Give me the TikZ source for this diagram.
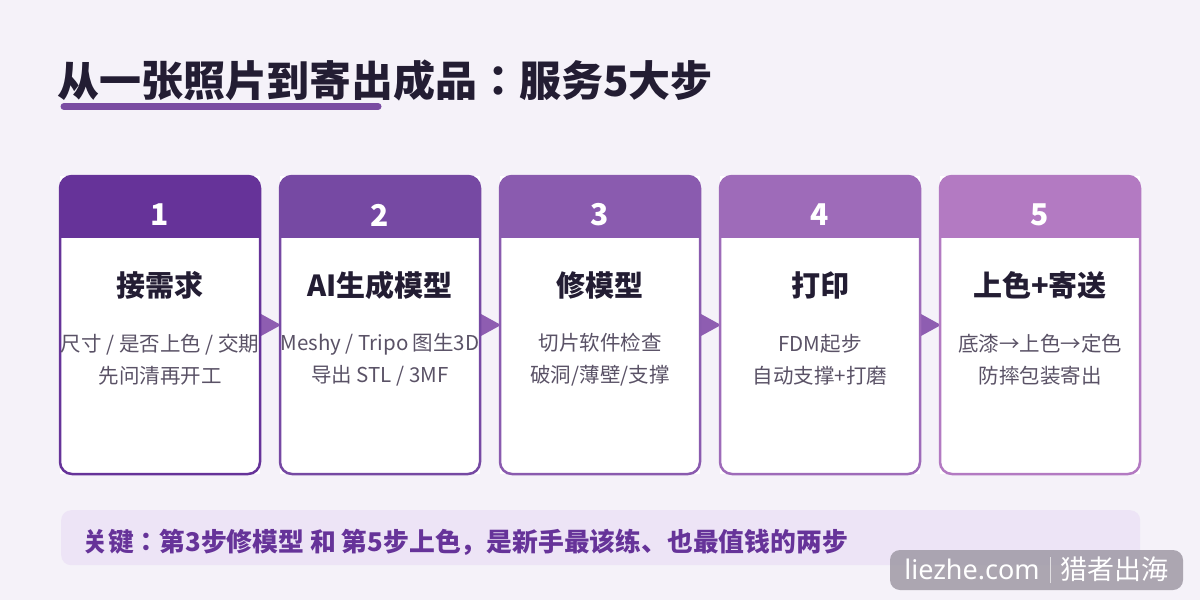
\documentclass[tikz,border=0pt]{standalone}
\usepackage{fontspec}
\setmainfont{Noto Sans CJK JP}
\newfontfamily\latinfont{Noto Sans}
\usetikzlibrary{calc}
\definecolor{bgc}{HTML}{F5F2F9}
\definecolor{hA}{HTML}{663399}
\definecolor{hB}{HTML}{7649A3}
\definecolor{hC}{HTML}{8A5BAF}
\definecolor{hD}{HTML}{9E6BB9}
\definecolor{hE}{HTML}{B37AC2}
\definecolor{ulc}{HTML}{7A4CA2}
\definecolor{arrc}{HTML}{8E5DB1}
\definecolor{darktxt}{HTML}{231D33}
\definecolor{desctxt}{HTML}{5A5266}
\definecolor{bannerc}{HTML}{EDE4F6}
\definecolor{wmc}{HTML}{9A94A0}
\pgfdeclarelayer{bg}
\pgfsetlayers{bg,main}
\tikzset{
  card/.style={fill=white, minimum width=200pt, minimum height=298pt, inner sep=0pt, outer sep=0pt},
  numtxt/.style={text=white, font=\fontsize{30}{36}\selectfont\bfseries, inner sep=0pt},
  ttltxt/.style={text=darktxt, font=\fontsize{29}{34}\selectfont\bfseries, inner sep=0pt},
  dsctxt/.style={text=desctxt, font=\fontsize{20.5}{32}\selectfont, align=center, inner sep=0pt},
  tri/.style={fill=arrc},
}
\begin{document}
\begin{tikzpicture}[x=1pt,y=-1pt]
\useasboundingbox (0,0) rectangle (1200,600);
\begin{pgfonlayer}{bg}
\fill[bgc] (0,0) rectangle (1200,600);
\end{pgfonlayer}
% title
\node[anchor=west, inner sep=0pt, text=darktxt, font=\fontsize{42}{50}\selectfont\bfseries] (title) at (57,80) {从一张照片到寄出成品：服务5大步};
\draw[ulc, line width=7pt, line cap=round] (64,106.5) -- (378,106.5);
% cards
\foreach \i/\c/\n/\t/\d in {1/hA/1/接需求/{尺寸 / 是否上色 / 交期\\先问清再开工},
  2/hB/2/AI生成模型/{Meshy / Tripo 图生3D\\导出 STL / 3MF},
  3/hC/3/修模型/{切片软件检查\\破洞/薄壁/支撑},
  4/hD/4/打印/{FDM起步\\自动支撑+打磨},
  5/hE/5/上色+寄送/{底漆→上色→定色\\防摔包装寄出}}{
  \node[card] (c\i) at ({160+220*(\i-1)},325) {};
  \begin{scope}
    \clip[rounded corners=12pt] (c\i.north west) rectangle (c\i.south east);
    \fill[\c] (c\i.north west) rectangle ([yshift=-62pt]c\i.north east);
  \end{scope}
  \draw[\c, line width=2.5pt, rounded corners=12pt] (c\i.north west) rectangle (c\i.south east);
  \node[numtxt] (n\i) at ([yshift=-39pt]c\i.north) {\n};
  \node[ttltxt] (t\i) at ([yshift=-109pt]c\i.north) {\t};
  \node[dsctxt] (d\i) at ([yshift=-184pt]c\i.north) {\d};
}
% arrows
\begin{pgfonlayer}{bg}
\foreach \a/\b in {1/2,2/3,3/4,4/5}{
  \fill[tri] ($(c\a.east)+(1,-11)$) -- ($(c\a.east)+(1,11)$) -- ($(c\b.west)+(1,0)$) -- cycle;
}
\end{pgfonlayer}
% banner
\node[fill=bannerc, rounded corners=10pt, minimum width=1079pt, minimum height=55pt, inner sep=0pt, anchor=north west] (banner) at (61,510) {};
\node[anchor=west, inner sep=0pt, text=hA, font=\fontsize{25.8}{30}\selectfont\bfseries] (btxt) at ($(banner.west)+(21,5)$) {关键：第3步修模型 和 第5步上色，是新手最该练、也最值钱的两步};
% watermark
\node[fill=wmc, fill opacity=0.8, text opacity=1, rounded corners=10pt, minimum width=293pt, minimum height=40pt, inner sep=0pt, text=white] (wm) at (1036.5,570) {\fontsize{27}{30}\selectfont\latinfont liezhe.com\hspace{10pt}{\color{white!70!wmc}\rule[-4pt]{1pt}{26pt}}\hspace{10pt}\fontsize{27}{30}\selectfont\rmfamily 猎者出海};
\end{tikzpicture}
\end{document}
